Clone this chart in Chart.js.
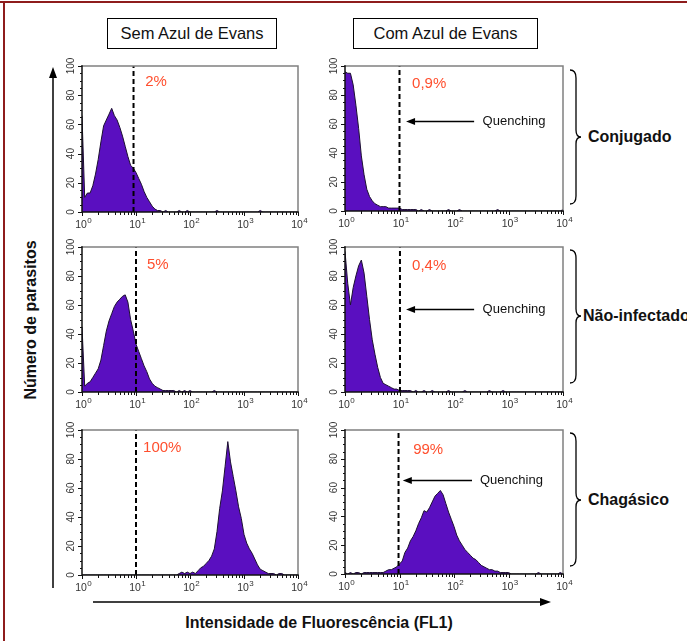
<!DOCTYPE html>
<html><head><meta charset="utf-8">
<script src="https://cdn.jsdelivr.net/npm/chart.js@4/dist/chart.umd.min.js"></script>
<style>
html,body{margin:0;padding:0;background:#fff;}
body{width:687px;height:641px;position:relative;overflow:hidden;font-family:"Liberation Sans",Arial,sans-serif;}
canvas{position:absolute;}
.hdr{position:absolute;border:1px solid #000;box-sizing:border-box;font-size:16.5px;color:#111;display:flex;align-items:center;justify-content:center;white-space:nowrap;}
#frameTop{position:absolute;left:0;top:1px;width:687px;height:2px;background:#8e1c1c;}
#frameLeft{position:absolute;left:3px;top:1px;width:2px;height:640px;background:#8e1c1c;}
</style></head><body>
<div id="frameTop"></div><div id="frameLeft"></div>
<svg id="deco" width="687" height="641" style="position:absolute;left:0;top:0;"></svg>
<script>
// ---------- DATA ----------
// FL1 channel positions (log10 of intensity)
const channels = [0,0.05,0.1,0.15,0.2,0.25,0.3,0.35,0.4,0.45,
  0.5,0.55,0.6,0.65,0.7,0.75,0.8,0.85,0.9,0.95,
  1,1.05,1.1,1.15,1.2,1.25,1.3,1.35,1.4,1.45,
  1.5,1.55,1.6,1.65,1.7,1.75,1.8,1.85,1.9,1.95,
  2,2.05,2.1,2.15,2.2,2.25,2.3,2.35,2.4,2.45,
  2.5,2.55,2.6,2.65,2.7,2.75,2.8,2.85,2.9,2.95,
  3,3.05,3.1,3.15,3.2,3.25,3.3,3.35,3.4,3.45,
  3.5,3.55,3.6,3.65,3.7,3.75,3.8,3.85,3.9,3.95,4];

const semConjugado = [66,10,13,13,18,26,36,48,59,63,
  67,71,66,63,58,52,45,38,32,30,
  27,23,19,14,10,7,4,2,1,1,
  0,1,0,0,0,0,1,0,0,1,
  0,0,0,0,0,0,0,0,0,0,
  1,0,0,0,0,0,0,0,0,0,
  0,0,0,0,0,0,1,0,0,0,
  0,0,0,0,0,0,0,0,0,0,0];
const comConjugado = [96,95,95,87,73,57,38,25,15,10,
  7,5,4,3,3,3,2,2,2,2,
  2,1,1,1,1,1,1,0,1,0,
  0,1,0,0,0,0,0,0,1,0,
  0,0,1,0,0,0,0,0,0,0,
  0,0,0,0,0,0,1,0,0,0,
  0,0,0,0,0,0,0,0,0,0,
  0,0,0,0,0,0,0,0,0,0,1];
const semNaoInfectado = [45,4,6,7,10,13,16,22,32,42,
  49,54,59,62,64,66,67,62,50,42,
  33,28,23,18,14,9,6,4,3,2,
  1,1,1,1,1,0,1,0,1,0,
  1,0,0,0,0,0,0,0,0,1,
  0,0,0,0,0,0,0,0,0,0,
  0,0,0,0,0,0,0,0,0,0,
  0,0,0,0,0,0,0,0,0,0,0];
const comNaoInfectado = [97,75,60,72,80,87,91,82,66,50,
  36,26,17,10,6,5,4,3,2,2,
  1,1,1,1,1,0,1,0,0,1,
  0,0,1,0,0,0,0,0,1,0,
  0,0,0,0,1,0,0,0,0,0,
  0,0,0,1,0,0,0,0,1,0,
  0,0,0,0,0,0,0,0,0,0,
  0,0,0,0,0,0,0,0,0,0,0];
const semChagasico = [0,0,0,0,0,0,0,0,0,0,
  0,0,0,0,0,0,0,0,0,0,
  0,0,0,0,0,0,0,0,0,0,
  0,0,0,0,0,0,1,2,1,2,
  1,2,1,3,5,6,8,10,13,18,
  30,46,58,75,92,78,68,58,47,39,
  28,22,18,15,11,7,4,3,2,1,
  1,1,0,1,1,0,0,0,0,0,0];
const comChagasico = [1,0,1,0,1,1,0,1,1,1,
  1,1,1,1,1,2,3,3,4,5,
  7,9,15,18,23,26,30,35,39,44,
  43,46,50,54,56,58,55,49,43,38,
  33,27,23,20,17,15,13,11,10,8,
  6,5,4,3,3,2,2,1,1,1,
  1,0,0,0,0,0,0,0,0,0,
  0,1,0,0,0,0,0,0,0,1,0];

const gates = [9, 10, 10, 10.2, 10, 9.6];               // dashed marker (FL1 value)
const percentLabels = ['2%', '0,9%', '5%', '0,4%', '100%', '99%'];
const xTickExponents = [0, 1, 2, 3, 4];
const yTicks = [0, 20, 40, 60, 80, 100];
const columnTitles = ['Sem Azul de Evans', 'Com Azul de Evans'];
const rowTitles = ['Conjugado', 'Não-infectado', 'Chagásico'];
const quenchingLabel = 'Quenching';
const xTitle = 'Intensidade de Fluorescência (FL1)';
const yTitle = 'Número de parasitos';

// ---------- LAYOUT ----------
const panels = [
  {data: semConjugado,    g: 0, l: 82,  t: 66,  w: 216, h: 146, pct: [14.8, 89]},
  {data: comConjugado,    g: 1, l: 345, t: 66,  w: 218, h: 145, pct: [17, 88], q: {y: 62, tip: 13.2, tail: 234, text: 335}},
  {data: semNaoInfectado, g: 2, l: 82,  t: 247, w: 216, h: 145, pct: [16, 88]},
  {data: comNaoInfectado, g: 3, l: 345, t: 247, w: 218, h: 145, pct: [17, 87], q: {y: 57, tip: 13.2, tail: 234, text: 335}},
  {data: semChagasico,    g: 4, l: 82,  t: 430, w: 216, h: 145, pct: [13.5, 88]},
  {data: comChagasico,    g: 5, l: 345, t: 430, w: 218, h: 144, pct: [17.8, 86], q: {y: 65, tip: 11.5, tail: 214, text: 300}}
];
const PAD = {left: 34, top: 10, right: 12, bottom: 24};
const FONT = '"Liberation Sans", Arial, sans-serif';

const facsPlugin = {
  id: 'facs',
  afterDatasetsDraw(chart, args, o) {
    const ctx = chart.ctx, a = chart.chartArea, xs = chart.scales.x, ys = chart.scales.y;
    ctx.save();
    // frame
    ctx.lineCap = 'square';
    ctx.strokeStyle = '#808080'; ctx.lineWidth = 1.5;
    ctx.beginPath(); ctx.moveTo(a.left, a.top); ctx.lineTo(a.right, a.top); ctx.lineTo(a.right, a.bottom); ctx.stroke();
    ctx.strokeStyle = '#111'; ctx.lineWidth = 1.5;
    ctx.beginPath(); ctx.moveTo(a.left, a.top); ctx.lineTo(a.left, a.bottom); ctx.lineTo(a.right, a.bottom); ctx.stroke();
    // x ticks (log)
    ctx.lineWidth = 1; ctx.lineCap = 'butt';
    ctx.beginPath();
    for (let d = 0; d < 4; d++) {
      for (let m = 1; m <= 9; m++) {
        const px = Math.round(xs.getPixelForValue(m * Math.pow(10, d))) + 0.5;
        const len = m === 1 ? 4 : 3;
        ctx.moveTo(px, a.bottom); ctx.lineTo(px, a.bottom + len);
      }
    }
    const pEnd = Math.round(xs.getPixelForValue(10000)) + 0.5;
    ctx.moveTo(pEnd, a.bottom); ctx.lineTo(pEnd, a.bottom + 4);
    // y ticks
    for (let v = 0; v <= 100; v += 5) {
      const py = Math.round(ys.getPixelForValue(v)) + 0.5;
      const len = v % 20 === 0 ? 4 : 2;
      ctx.moveTo(a.left - len, py); ctx.lineTo(a.left, py);
    }
    ctx.stroke();
    // x labels
    ctx.fillStyle = '#333';
    xTickExponents.forEach(e => {
      const px = xs.getPixelForValue(Math.pow(10, e));
      ctx.font = '10.5px ' + FONT;
      const w = ctx.measureText('10').width;
      ctx.textAlign = 'left'; ctx.textBaseline = 'alphabetic';
      ctx.fillText('10', px - w / 2 - 1, a.bottom + 16);
      ctx.font = '8px ' + FONT;
      ctx.fillText(String(e), px + w / 2 - 0.5, a.bottom + 11);
    });
    // y labels rotated
    ctx.font = '10px ' + FONT;
    yTicks.forEach(v => {
      const py = ys.getPixelForValue(v);
      ctx.save();
      ctx.translate(a.left - 11, py);
      ctx.rotate(-Math.PI / 2);
      ctx.textAlign = 'center'; ctx.textBaseline = 'middle';
      ctx.fillText(String(v), 0, 0);
      ctx.restore();
    });
    // percentage
    ctx.fillStyle = '#ff4f2e';
    ctx.font = '15px ' + FONT;
    ctx.textAlign = 'left'; ctx.textBaseline = 'middle';
    ctx.fillText(o.pctText, xs.getPixelForValue(o.pct[0]), ys.getPixelForValue(o.pct[1]));
    // quenching arrow
    if (o.q) {
      const y = Math.round(ys.getPixelForValue(o.q.y)) + 0.5;
      const x1 = xs.getPixelForValue(o.q.tip), x2 = xs.getPixelForValue(o.q.tail);
      ctx.strokeStyle = '#000'; ctx.fillStyle = '#000'; ctx.lineWidth = 1.3;
      ctx.beginPath(); ctx.moveTo(x2, y); ctx.lineTo(x1 + 6, y); ctx.stroke();
      ctx.beginPath(); ctx.moveTo(x1, y); ctx.lineTo(x1 + 9, y - 3.5); ctx.lineTo(x1 + 9, y + 3.5); ctx.closePath(); ctx.fill();
      ctx.font = '13px ' + FONT; ctx.fillStyle = '#111';
      ctx.textBaseline = 'middle';
      ctx.fillText(quenchingLabel, xs.getPixelForValue(o.q.text), y);
    }
    ctx.restore();
  }
};

panels.forEach((p, i) => {
  const c = document.createElement('canvas');
  const W = p.w + PAD.left + PAD.right, H = p.h + PAD.top + PAD.bottom;
  c.width = W; c.height = H;
  c.style.left = (p.l - PAD.left) + 'px'; c.style.top = (p.t - PAD.top) + 'px';
  c.style.width = W + 'px'; c.style.height = H + 'px';
  document.body.appendChild(c);
  const gx = gates[p.g];
  new Chart(c, {
    type: 'line',
    data: {
      datasets: [
        {data: [{x: gx, y: 0}, {x: gx, y: 100}], borderColor: '#000', borderWidth: 2, borderDash: [5, 3],
         pointRadius: 0, fill: false, order: 0},
        {data: channels.map((e, k) => ({x: Math.pow(10, e), y: p.data[k]})), borderColor: '#1c1030', borderWidth: 1,
         backgroundColor: '#5a0fc0', pointRadius: 0, fill: 'origin', tension: 0, order: 1}
      ]
    },
    options: {
      responsive: false, animation: false, devicePixelRatio: 1,
      layout: {padding: PAD, autoPadding: false},
      scales: {
        x: {type: 'logarithmic', min: 1, max: 10000, display: false},
        y: {type: 'linear', min: 0, max: 100, display: false}
      },
      plugins: {
        legend: {display: false}, tooltip: {enabled: false},
        facs: {pct: p.pct, pctText: percentLabels[p.g], q: p.q}
      },
      elements: {line: {borderJoinStyle: 'miter'}}
    },
    plugins: [facsPlugin]
  });
});

// headers
[[107, 18, 170], [353, 18, 185]].forEach((b, i) => {
  const d = document.createElement('div');
  d.className = 'hdr';
  d.style.left = b[0] + 'px'; d.style.top = b[1] + 'px'; d.style.width = b[2] + 'px'; d.style.height = '31px';
  d.textContent = columnTitles[i];
  document.body.appendChild(d);
});

// decorations: braces, axis arrows
const svg = document.getElementById('deco');
const NS = 'http://www.w3.org/2000/svg';
function add(tag, attrs) { const e = document.createElementNS(NS, tag); for (const k in attrs) e.setAttribute(k, attrs[k]); svg.appendChild(e); return e; }
[[70, 137, 204], [250, 316, 383], [433, 500, 566]].forEach((b, i) => {
  const [T, M, B] = b, x0 = 570, xs = 576, xt = 581;
  add('path', {d: `M${x0} ${T} C${x0+4} ${T} ${xs} ${T+2} ${xs} ${T+8} L${xs} ${M-7} C${xs} ${M-2} ${xs+2} ${M} ${xt} ${M} C${xs+2} ${M} ${xs} ${M+2} ${xs} ${M+7} L${xs} ${B-8} C${xs} ${B-2} ${x0+4} ${B} ${x0} ${B}`,
    fill: 'none', stroke: '#000', 'stroke-width': 1.3});
  const t = add('text', {x: i === 1 ? 583 : 588, y: M + 5, 'font-family': 'Liberation Sans, Arial, sans-serif', 'font-size': 16, 'font-weight': 'bold', fill: '#111'});
  t.textContent = rowTitles[i];
});
// vertical arrow
add('line', {x1: 53, y1: 588, x2: 53, y2: 76, stroke: '#000', 'stroke-width': 1.5});
add('path', {d: 'M53 67 L49 78 L57 78 Z', fill: '#000'});
// horizontal arrow
add('line', {x1: 93, y1: 602, x2: 541, y2: 602, stroke: '#000', 'stroke-width': 1.5});
add('path', {d: 'M551 602 L540 598 L540 606 Z', fill: '#000'});
const xt = add('text', {x: 319, y: 628, 'text-anchor': 'middle', 'font-family': 'Liberation Sans, Arial, sans-serif', 'font-size': 16, 'font-weight': 'bold', fill: '#111'});
xt.textContent = xTitle;
const yt = add('text', {x: 0, y: 0, transform: 'translate(36 320) rotate(-90)', 'text-anchor': 'middle', 'font-family': 'Liberation Sans, Arial, sans-serif', 'font-size': 16, 'font-weight': 'bold', fill: '#111'});
yt.textContent = yTitle;
</script>
</body></html>
